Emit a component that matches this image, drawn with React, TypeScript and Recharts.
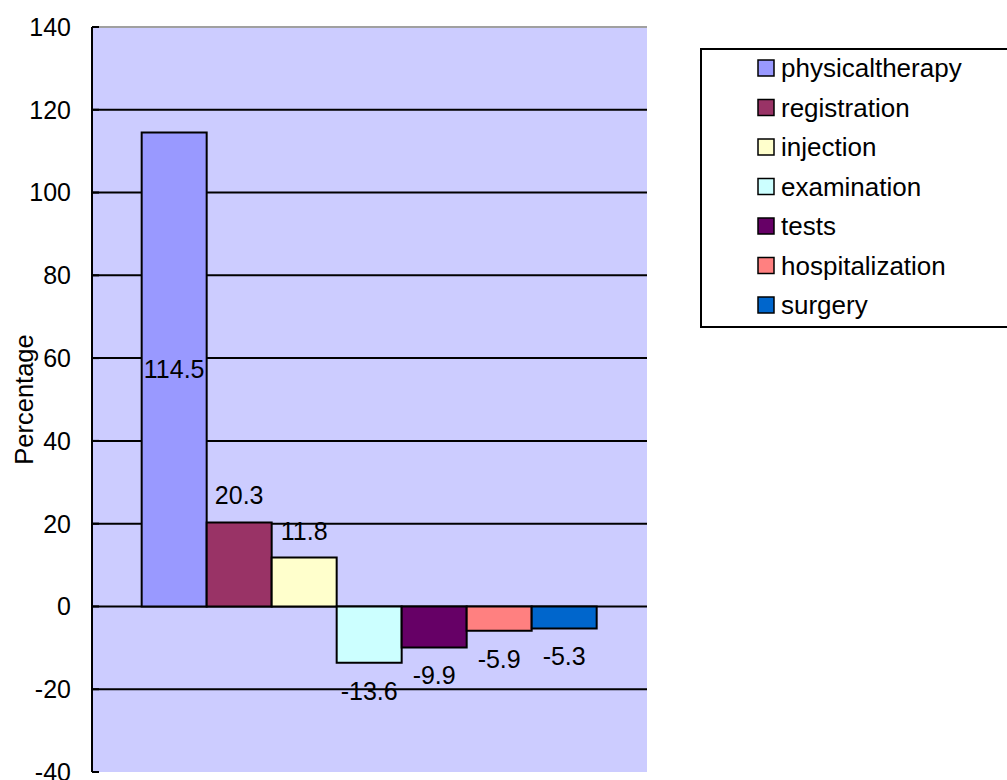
import React from 'react';
import { BarChart, Bar, XAxis, YAxis, CartesianGrid, Legend, LabelList, ReferenceLine } from 'recharts';

const categories = [''];
const seriesNames = ['physicaltherapy', 'registration', 'injection', 'examination', 'tests', 'hospitalization', 'surgery'];
const seriesValues = [114.5, 20.3, 11.8, -13.6, -9.9, -5.9, -5.3];
const seriesColors = ['#9999FF', '#993366', '#FFFFCC', '#CCFFFF', '#660066', '#FF8080', '#0066CC'];
const labelPlacement = ['center', 'outside', 'outside', 'outside', 'outside', 'outside', 'outside'];
const yTicks = [-40, -20, 0, 20, 40, 60, 80, 100, 120, 140];

const FONT = '"Liberation Sans", Arial, sans-serif';

const data = categories.map((c) => {
  const row: Record<string, any> = { name: c };
  seriesNames.forEach((s, i) => {
    row[s] = seriesValues[i];
  });
  return row;
});

const makeLabel = (placement: string) => (props: any) => {
  const { x, y, width, height, value } = props;
  const top = Math.min(y, y + height);
  const bottom = Math.max(y, y + height);
  let cy: number;
  if (placement === 'center') cy = (top + bottom) / 2;
  else if (value >= 0) cy = top - 27;
  else cy = bottom + 28;
  return (
    <text x={x + width / 2} y={cy} textAnchor="middle" dominantBaseline="central" fontSize={25} fontFamily={FONT} fill="#000">
      {value}
    </text>
  );
};

const renderLegend = (props: any) => {
  const payload = [...(props.payload || [])].sort(
    (a: any, b: any) => seriesNames.indexOf(a.value) - seriesNames.indexOf(b.value)
  );
  return (
    <svg width={320} height={282} style={{ display: 'block' }}>
      <rect x={1} y={1} width={330} height={278} fill="#fff" stroke="#000" strokeWidth={2} />
      {payload.map((entry: any, i: number) => {
        const cy = 20 + i * 39.5;
        const idx = seriesNames.indexOf(entry.value);
        return (
          <g key={i}>
            <rect x={58} y={cy - 8} width={16} height={16} fill={seriesColors[idx] || entry.color} stroke="#000" strokeWidth={1.5} />
            <text x={81} y={cy} dominantBaseline="central" fontSize={26} fontFamily={FONT} fill="#000">
              {entry.value}
            </text>
          </g>
        );
      })}
    </svg>
  );
};

const renderYLabel = (props: any) => {
  const vb = props.viewBox || { x: 0, y: 27, width: 92, height: 745 };
  const cx = vb.x + 24;
  const cy = vb.y + vb.height / 2;
  return (
    <text x={cx} y={cy} transform={`rotate(-90, ${cx}, ${cy})`} textAnchor="middle" dominantBaseline="central" fontSize={25.5} fontFamily={FONT} fill="#000">
      Percentage
    </text>
  );
};

export default function App() {
  return (
    <div style={{ position: 'absolute', left: 0, top: 0, width: 1007, height: 780, background: '#fff' }}>
      <BarChart
        width={1007}
        height={780}
        data={data}
        margin={{ top: 27, right: 360, bottom: 8, left: 0 }}
        barCategoryGap="8.95%"
        barGap={0}
      >
        <CartesianGrid
          vertical={false}
          horizontalValues={yTicks.filter((t) => t > yTicks[0] && t < yTicks[yTicks.length - 1])}
          stroke="#000"
          strokeWidth={2}
          fill="#CCCCFF"
          fillOpacity={1}
        />
        <XAxis dataKey="name" height={0} tick={false} tickLine={false} axisLine={{ stroke: '#A0A0A0', strokeWidth: 2 }} />
        <YAxis
          domain={[yTicks[0], yTicks[yTicks.length - 1]]}
          ticks={yTicks}
          interval={0}
          width={92}
          tickSize={-7}
          tickMargin={28}
          axisLine={{ stroke: '#000', strokeWidth: 2 }}
          tickLine={{ stroke: '#000', strokeWidth: 2 }}
          tick={{ fill: '#000', fontSize: 25, fontFamily: FONT }}
          label={renderYLabel}
        />
        <YAxis
          yAxisId="right"
          orientation="right"
          domain={[yTicks[0], yTicks[yTicks.length - 1]]}
          width={0}
          tick={false}
          tickLine={false}
          axisLine={{ stroke: '#A0A0A0', strokeWidth: 2 }}
        />
        <ReferenceLine y={yTicks[yTicks.length - 1]} stroke="#A0A0A0" strokeWidth={2} />
        {seriesNames.map((s, i) => (
          <Bar key={s} dataKey={s} name={s} fill={seriesColors[i]} stroke="#000" strokeWidth={2} isAnimationActive={false}>
            <LabelList dataKey={s} content={makeLabel(labelPlacement[i])} />
          </Bar>
        ))}
        <Legend
          layout="vertical"
          align="center"
          verticalAlign="middle"
          itemSorter={null as any}
          content={renderLegend}
          wrapperStyle={{ position: 'absolute', left: 700, top: 48, width: 320, height: 282 }}
        />
      </BarChart>
    </div>
  );
}
